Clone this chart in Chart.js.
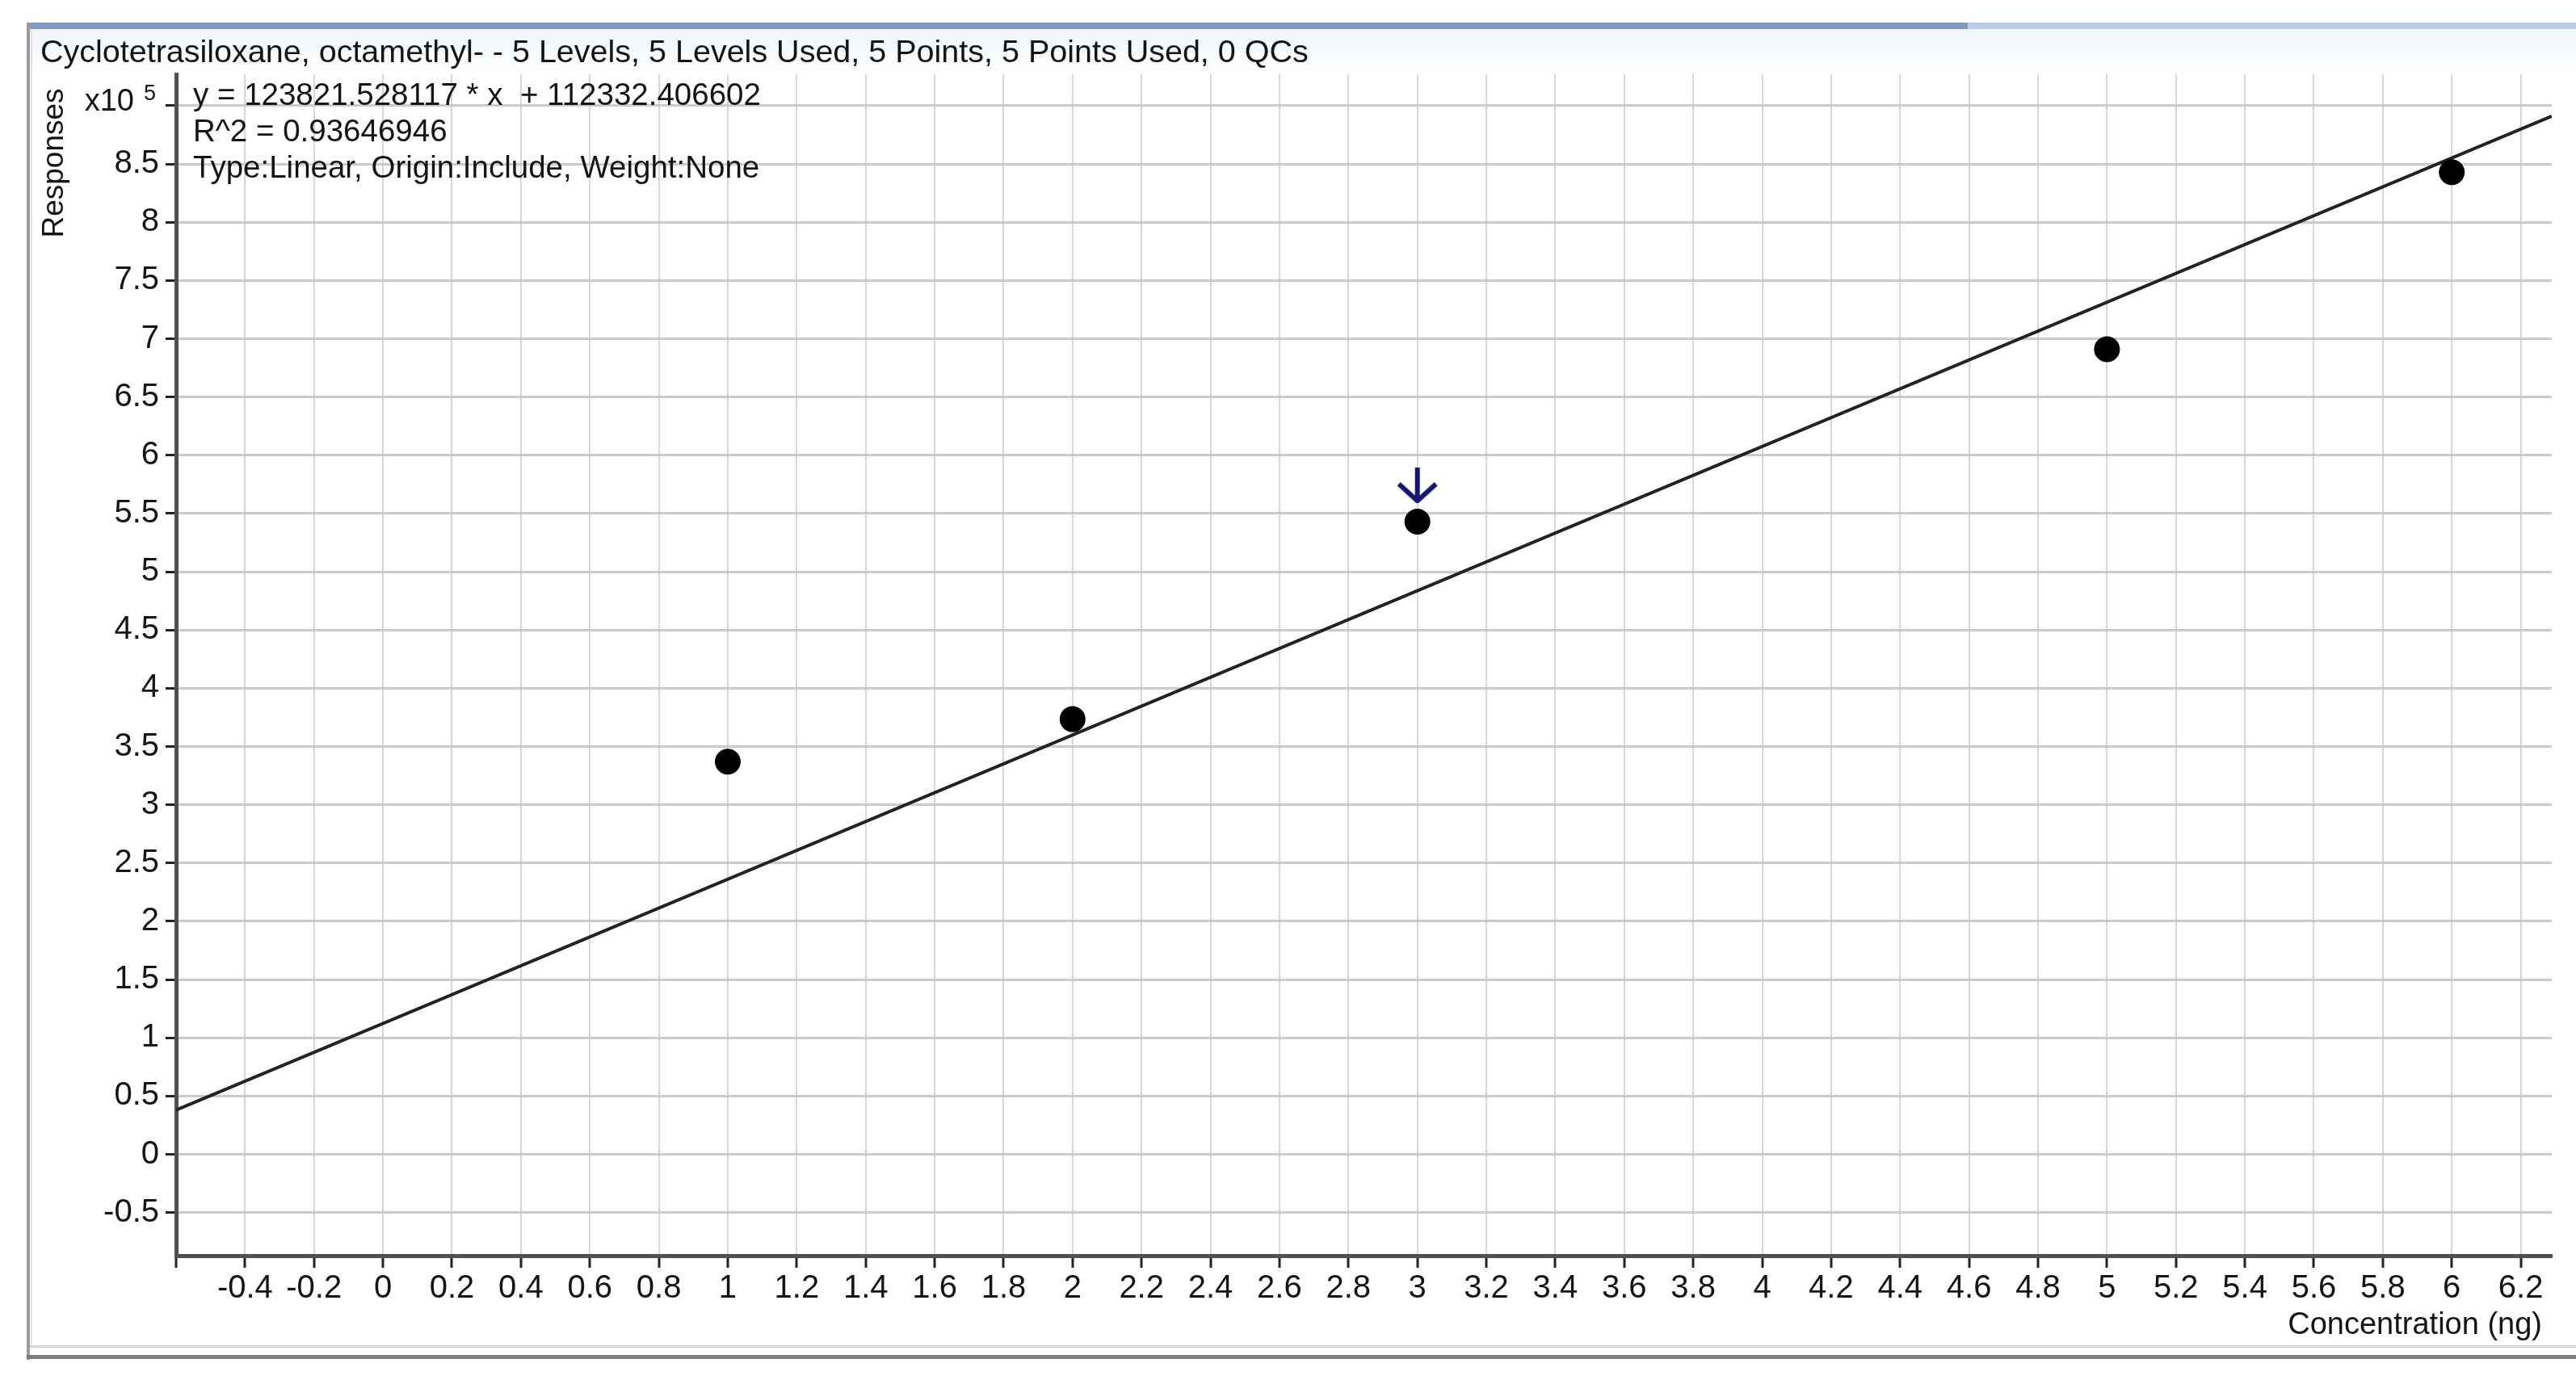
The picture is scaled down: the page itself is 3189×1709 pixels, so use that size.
<!DOCTYPE html>
<html>
<head>
<meta charset="utf-8">
<style>
  html, body { margin: 0; padding: 0; background: #fff; }
  #wrap { width: 3189px; height: 1709px; }
</style>
<script src="https://cdn.jsdelivr.net/npm/chart.js@4.4.1/dist/chart.umd.min.js"></script>
</head>
<body>
<div id="wrap"><canvas id="calib" width="3189" height="1709"></canvas></div>
<script>
// calibration points (x in ng, responses in units of 1e5)
const concentrations = [1, 2, 3, 5, 6];
const responses = [3.37, 3.735, 5.43, 6.91, 8.43];

// fitted line y = 123821.528117 * x + 112332.406602 (ends read at the plot edges)
const fitX = [-0.6, 6.29];
const fitY = [0.38, 8.91];

// the flagged level (blue arrow above the point at 3 ng)
const flagX = [3];
const flagY = [5.74];

// axis ranges and tick steps
const xRange = [-0.6, 6.29];
const yRange = [-0.87, 9.27];
const xStep = 0.2;
const yStep = 0.5;

const titleText = "Cyclotetrasiloxane, octamethyl- - 5 Levels, 5 Levels Used, 5 Points, 5 Points Used, 0 QCs";
const equationLines = [
  "y = 123821.528117 * x  + 112332.406602",
  "R^2 = 0.93646946",
  "Type:Linear, Origin:Include, Weight:None"
];

const FONT = "'Liberation Sans', Arial, sans-serif";

// small down arrow used as the point style of the flag dataset
function makeArrow() {
  const c = document.createElement('canvas');
  c.width = 56; c.height = 44;
  const g = c.getContext('2d');
  g.strokeStyle = '#16166e';
  g.lineWidth = 6;
  g.beginPath(); g.moveTo(28, 0); g.lineTo(28, 39); g.stroke();
  g.beginPath(); g.moveTo(5, 20); g.lineTo(28, 41); g.lineTo(51, 20); g.stroke();
  return c;
}

function toPoints(xs, ys) {
  return xs.map((x, i) => ({ x: x, y: ys[i] }));
}

// ticks on every step inside the range (Chart.js drops the ones close to min/max)
function stepTicks(step) {
  return function (scale) {
    const out = [];
    const a = Math.ceil(scale.min / step - 1e-6);
    const b = Math.floor(scale.max / step + 1e-6);
    for (let k = a; k <= b; k++) out.push({ value: Math.round(k * step * 1000) / 1000 });
    scale.ticks = out;
  };
}

function fmt(v) {
  return String(Math.round(v * 10) / 10);
}

// window frame, header bar and all the free texts
const decor = {
  id: 'decor',
  beforeDraw(chart) {
    const ctx = chart.ctx;
    ctx.save();
    ctx.fillStyle = '#ffffff';
    ctx.fillRect(0, 0, chart.width, chart.height);
    // header tint under the blue bar
    const grad = ctx.createLinearGradient(0, 35, 0, 90);
    grad.addColorStop(0, '#eef5fb');
    grad.addColorStop(1, '#ffffff');
    ctx.fillStyle = grad;
    ctx.fillRect(36, 35, chart.width - 36, 55);
    // blue bar at the top
    ctx.fillStyle = '#8099c4';
    ctx.fillRect(34, 28, 2436 - 34, 8);
    ctx.fillStyle = '#bccde4';
    ctx.fillRect(2436, 28, chart.width - 2436, 8);
    // left border
    ctx.fillStyle = '#9a9a9a';
    ctx.fillRect(33, 28, 4, 1656);
    ctx.fillStyle = '#e2e2e2';
    ctx.fillRect(38, 36, 2, 1632);
    // bottom border lines
    ctx.fillStyle = '#d6d6d6';
    ctx.fillRect(37, 1666, chart.width - 37, 3);
    ctx.fillStyle = '#7c7c7c';
    ctx.fillRect(33, 1678, chart.width - 33, 5);
    ctx.restore();
  },
  afterDraw(chart) {
    const ctx = chart.ctx;
    const ys = chart.scales.y;
    ctx.save();
    ctx.fillStyle = '#141414';
    ctx.textBaseline = 'middle';
    ctx.textAlign = 'left';
    // title line
    ctx.font = '39.5px ' + FONT;
    ctx.fillText(titleText, 50, 66);
    // regression info
    ctx.font = '38.5px ' + FONT;
    equationLines.forEach((s, i) => ctx.fillText(s, 239, 119 + i * 45));
    // exponent label at the top tick
    const y9 = ys.getPixelForValue(9);
    ctx.textAlign = 'right';
    ctx.font = '38px ' + FONT;
    ctx.fillText('x10', 166, y9 - 4);
    ctx.textAlign = 'left';
    ctx.font = '27px ' + FONT;
    ctx.fillText('5', 178, y9 - 14);
    // x axis name
    ctx.textAlign = 'right';
    ctx.font = '38px ' + FONT;
    ctx.fillText('Concentration (ng)', 3147, 1642);
    // y axis name, near the top
    ctx.translate(68, 202);
    ctx.rotate(-Math.PI / 2);
    ctx.textAlign = 'center';
    ctx.font = '37px ' + FONT;
    ctx.fillText('Responses', 0, 0);
    ctx.restore();
  }
};

new Chart(document.getElementById('calib'), {
  type: 'scatter',
  data: {
    datasets: [
      {
        label: 'Levels',
        data: toPoints(concentrations, responses),
        pointRadius: 16,
        pointBackgroundColor: '#000000',
        pointBorderWidth: 0,
        showLine: false
      },
      {
        label: 'Flag',
        data: toPoints(flagX, flagY),
        pointStyle: makeArrow(),
        showLine: false
      },
      {
        label: 'Fit',
        data: toPoints(fitX, fitY),
        showLine: true,
        borderColor: '#222222',
        borderWidth: 4,
        pointRadius: 0
      }
    ]
  },
  options: {
    responsive: false,
    animation: false,
    layout: { padding: { top: 92, right: 30, left: 0, bottom: 0 } },
    plugins: {
      legend: { display: false },
      tooltip: { enabled: false },
      title: { display: false }
    },
    scales: {
      x: {
        type: 'linear',
        min: xRange[0],
        max: xRange[1],
        afterFit(scale) { scale.height = 154; },
        afterBuildTicks: stepTicks(xStep),
        ticks: {
          autoSkip: false,
          maxRotation: 0,
          padding: 2,
          color: '#141414',
          font: { family: FONT, size: 40 },
          callback(v) { return Math.abs(v - xRange[0]) < 1e-6 ? '' : fmt(v); }
        },
        grid: {
          color: '#d6d6d6',
          lineWidth: 2,
          tickColor: '#222222',
          tickWidth: 3,
          tickLength: 15
        },
        border: { color: '#505050', width: 5 }
      },
      y: {
        type: 'linear',
        min: yRange[0],
        max: yRange[1],
        afterFit(scale) { scale.width = 218; },
        afterBuildTicks: stepTicks(yStep),
        ticks: {
          autoSkip: false,
          padding: 8,
          color: '#141414',
          font: { family: FONT, size: 40 },
          callback(v) { return Math.abs(v - 9) < 1e-6 ? '' : fmt(v); }
        },
        grid: {
          color: '#cbcbcb',
          lineWidth: 3,
          tickColor: '#222222',
          tickWidth: 3,
          tickLength: 13
        },
        border: { color: '#505050', width: 5 }
      }
    }
  },
  plugins: [decor]
});
</script>
</body>
</html>
